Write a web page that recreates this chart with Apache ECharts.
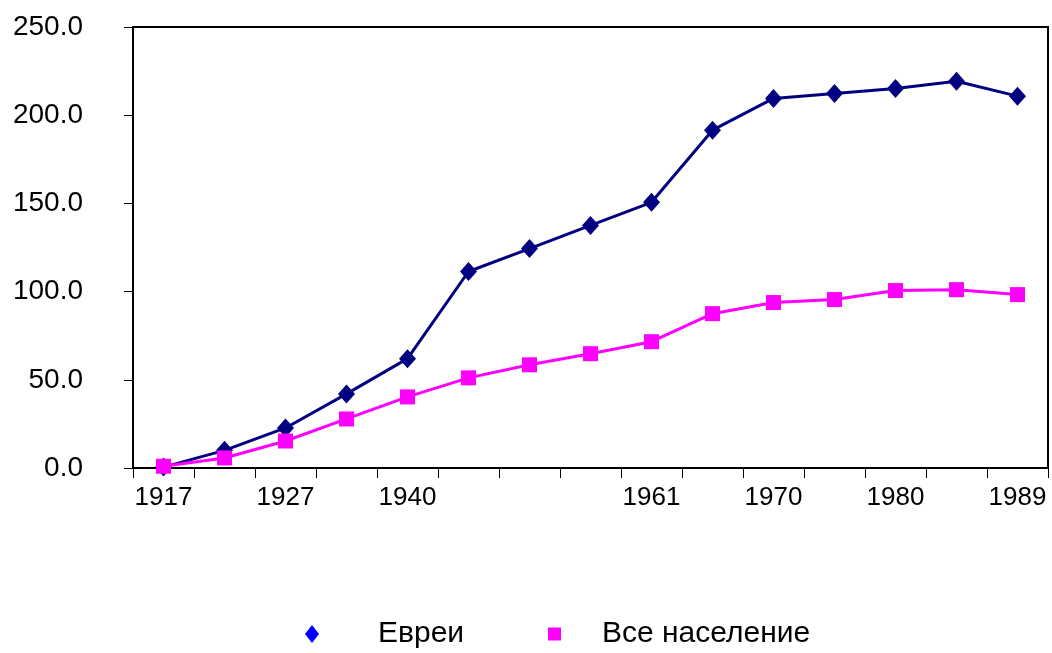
<!DOCTYPE html>
<html>
<head>
<meta charset="utf-8">
<script src="https://cdn.jsdelivr.net/npm/echarts@6/dist/echarts.min.js"></script>
<style>
html,body{margin:0;padding:0;background:#fff;}
#chart{width:1052px;height:653px;}
</style>
</head>
<body>
<div id="chart"></div>
<script>
const categories = ['1917','','1927','','1940','','','','1961','','1970','','1980','','1989'];
const jews = [0.5, 10, 22.7, 42, 62, 111.4, 124.4, 137.5, 150.6, 191.5, 209.5, 212.3, 215.2, 219.2, 210.8];
const allPop = [1, 5.7, 15.3, 27.8, 40.3, 51.1, 58.5, 64.8, 71.6, 87.5, 93.8, 95.5, 100.6, 101.1, 98.3];
const seriesNames = ['Евреи', 'Все население'];
const yTicks = {min: 0, max: 250, interval: 50};

const font = '"Liberation Sans", Arial, sans-serif';
const chart = echarts.init(document.getElementById('chart'), null, {renderer: 'canvas'});
chart.setOption({
  animation: false,
  backgroundColor: '#ffffff',
  grid: {left: 133, right: 4, top: 27, bottom: 185, show: true, borderColor: '#000', borderWidth: 2, backgroundColor: 'transparent'},
  legend: [
    {data: [{name: seriesNames[0], icon: 'diamond', itemStyle: {color: '#0000FF'}}],
     left: 300, top: 614, itemWidth: 14, itemHeight: 18,
     textStyle: {fontFamily: font, fontSize: 30, color: '#000', padding: [0,0,0,54]}},
    {data: [{name: seriesNames[1], icon: 'rect', itemStyle: {color: '#FF00FF'}}],
     left: 543, top: 614, itemWidth: 13, itemHeight: 13,
     textStyle: {fontFamily: font, fontSize: 30, color: '#000', padding: [0,0,0,36]}}
  ],
  xAxis: {
    type: 'category', data: categories, boundaryGap: true,
    axisLine: {lineStyle: {color: '#000', width: 2}},
    axisTick: {show: true, interval: 0, length: 10, lineStyle: {color: '#000', width: 1}},
    axisLabel: {interval: 0, color: '#000', fontFamily: font, fontSize: 26, margin: 17},
    splitLine: {show: false}
  },
  yAxis: {
    type: 'value', min: yTicks.min, max: yTicks.max, interval: yTicks.interval,
    axisLine: {show: true, lineStyle: {color: '#000', width: 2}},
    axisTick: {show: true, length: 9, lineStyle: {color: '#000', width: 1}},
    axisLabel: {color: '#000', fontFamily: font, fontSize: 28, margin: 50, formatter: v => v.toFixed(1)},
    splitLine: {show: false}
  },
  series: [
    {name: seriesNames[0], type: 'line', data: jews, symbol: 'diamond', symbolSize: [17, 19],
     lineStyle: {color: '#000080', width: 3}, itemStyle: {color: '#000080'}, z: 2},
    {name: seriesNames[1], type: 'line', data: allPop, symbol: 'rect', symbolSize: 15,
     lineStyle: {color: '#FF00FF', width: 3}, itemStyle: {color: '#FF00FF'}, z: 3}
  ]
});
</script>
</body>
</html>
